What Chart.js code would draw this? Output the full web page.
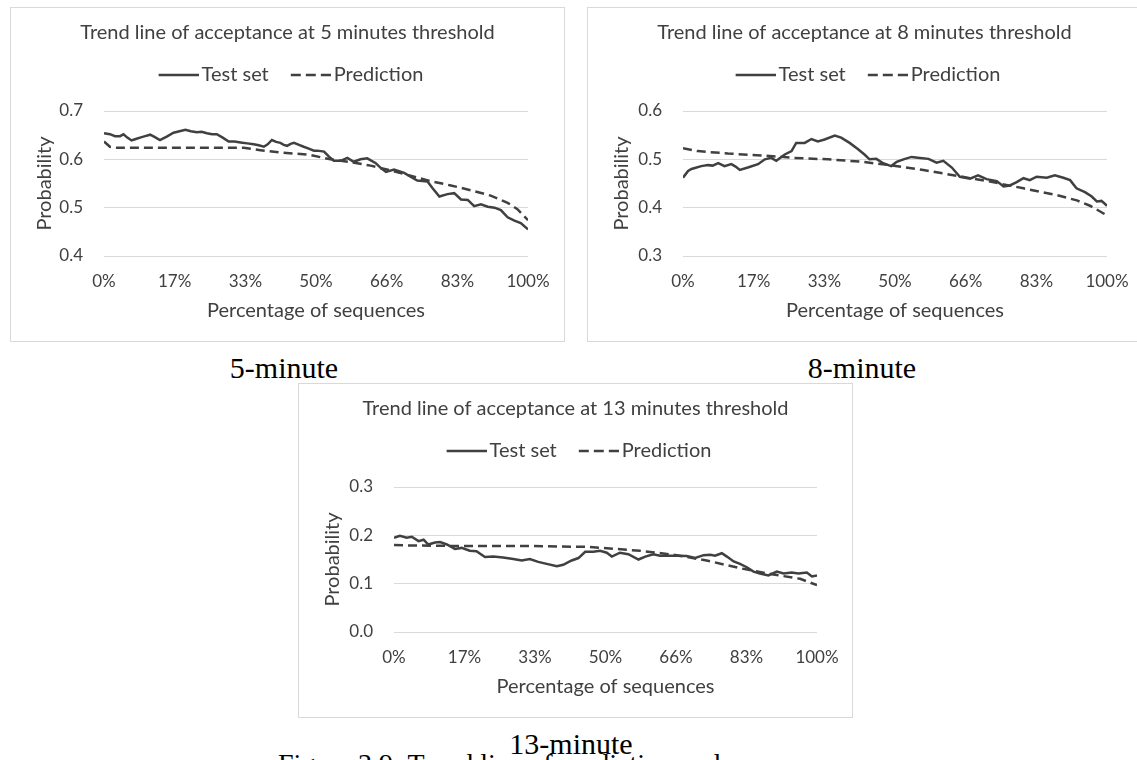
<!DOCTYPE html>
<html>
<head>
<meta charset="utf-8">
<script src="https://cdn.jsdelivr.net/npm/chart.js@4.4.1/dist/chart.umd.min.js"></script>
<style>
body { margin: 0; background: #fff; width: 1137px; height: 760px; overflow: hidden; position: relative; }
.box { position: absolute; border: 1px solid #d9d9d9; background: #fff; }
.box canvas { display: block; }
.cap { position: absolute; font-family: "Liberation Serif", "Times New Roman", serif; font-size: 30px; line-height: 1; color: #000; white-space: nowrap; }
.mid { transform: translateX(-50%); }
</style>
</head>
<body>
<div class="box" style="left:10px; top:7px;"><canvas id="chart5" width="553" height="333"></canvas></div>
<div class="box" style="left:587px; top:7px;"><canvas id="chart8" width="553" height="333"></canvas></div>
<div class="box" style="left:298px; top:383px;"><canvas id="chart13" width="553" height="333"></canvas></div>
<div class="cap mid" style="left:284px; top:353px;">5-minute</div>
<div class="cap mid" style="left:862px; top:353px;">8-minute</div>
<div class="cap mid" style="left:571px; top:729px;">13-minute</div>
<div class="cap" style="left:278px; top:750px; font-size:28px;">Figure 3.9: Trend line of prediction and</div>
<script>
var xTickLabels = ['0%', '17%', '33%', '50%', '66%', '83%', '100%'];
var legendLabels = ['Test set', 'Prediction'];
var FONT = 'Lato, "Open Sans", sans-serif';
var INK = '#404040';

// 5 minutes threshold
var test5X = [0, 1.4, 2.6, 3.8, 4.6, 5.5, 6.5, 7.5, 8.5, 9.7, 10.9, 12.0, 13.2, 14.8, 16.4, 17.8, 19.2, 20.5, 21.9, 23.0, 24.3, 25.5, 26.6, 28.0, 29.4, 30.8, 32.2, 33.8, 35.3, 36.5, 37.7, 38.6, 39.6, 40.6, 41.6, 42.4, 43.2, 44.0, 44.8, 46.0, 47.1, 48.3, 49.5, 50.3, 51.9, 53.0, 54.2, 55.8, 57.4, 58.9, 60.5, 62.1, 64.1, 65.3, 66.5, 68.4, 70.8, 72.3, 73.9, 76.3, 77.5, 79.1, 81.0, 82.6, 84.2, 85.8, 87.3, 88.9, 90.5, 92.1, 93.6, 95.2, 96.8, 98.3, 100];
var test5Y = [0.654, 0.652, 0.648, 0.648, 0.652, 0.645, 0.639, 0.642, 0.645, 0.648, 0.651, 0.646, 0.640, 0.647, 0.655, 0.658, 0.661, 0.658, 0.656, 0.657, 0.654, 0.652, 0.652, 0.645, 0.637, 0.637, 0.635, 0.633, 0.631, 0.629, 0.626, 0.631, 0.640, 0.636, 0.634, 0.630, 0.628, 0.632, 0.634, 0.630, 0.626, 0.622, 0.618, 0.618, 0.616, 0.606, 0.597, 0.597, 0.603, 0.595, 0.600, 0.602, 0.592, 0.582, 0.574, 0.579, 0.572, 0.564, 0.556, 0.554, 0.540, 0.523, 0.528, 0.530, 0.517, 0.516, 0.503, 0.507, 0.502, 0.500, 0.495, 0.480, 0.473, 0.468, 0.455];
var pred5X = [0, 1.4, 3, 20, 32.9, 36.9, 41.6, 46.3, 48.7, 53.4, 58.2, 62.9, 67.6, 72.3, 77.0, 81.8, 86.5, 91.2, 95.2, 97.5, 98.5, 100];
var pred5Y = [0.637, 0.626, 0.624, 0.624, 0.624, 0.619, 0.614, 0.611, 0.609, 0.600, 0.594, 0.587, 0.577, 0.566, 0.555, 0.546, 0.536, 0.525, 0.510, 0.497, 0.488, 0.474];
var yTicks5 = [0.4, 0.5, 0.6, 0.7];

// 8 minutes threshold
var test8X = [0, 1.2, 2.0, 2.8, 4.3, 5.9, 7.0, 8.3, 9.8, 11.4, 12.4, 13.4, 15.3, 17.7, 19.3, 20.8, 22.0, 24.0, 25.6, 26.7, 28.7, 30.3, 31.8, 33.4, 35.8, 37.3, 39.3, 41.3, 42.8, 44.0, 45.6, 47.2, 49.1, 50.4, 52.0, 53.9, 55.9, 57.9, 59.8, 61.4, 63.4, 65.3, 67.7, 69.6, 71.6, 74.0, 75.6, 77.1, 78.7, 80.3, 81.8, 83.4, 85.8, 87.7, 89.7, 91.3, 92.8, 94.8, 96.4, 97.6, 98.7, 100];
var test8Y = [0.462, 0.476, 0.480, 0.482, 0.486, 0.488, 0.487, 0.492, 0.486, 0.490, 0.485, 0.478, 0.483, 0.490, 0.500, 0.503, 0.497, 0.510, 0.517, 0.534, 0.534, 0.542, 0.537, 0.541, 0.549, 0.545, 0.534, 0.521, 0.510, 0.500, 0.501, 0.492, 0.486, 0.495, 0.500, 0.505, 0.503, 0.501, 0.493, 0.497, 0.483, 0.464, 0.460, 0.467, 0.459, 0.455, 0.444, 0.446, 0.453, 0.461, 0.457, 0.464, 0.462, 0.467, 0.462, 0.457, 0.440, 0.432, 0.423, 0.413, 0.414, 0.404];
var pred8X = [0, 3.5, 10.6, 18.5, 26.3, 34.2, 42.1, 48.8, 56.7, 64.5, 72.4, 80.3, 88.2, 92.9, 96.0, 99.2, 100];
var pred8Y = [0.523, 0.517, 0.512, 0.508, 0.503, 0.500, 0.495, 0.488, 0.478, 0.466, 0.454, 0.440, 0.426, 0.415, 0.404, 0.388, 0.384];
var yTicks8 = [0.3, 0.4, 0.5, 0.6];

// 13 minutes threshold
var test13X = [0, 1.4, 3.0, 4.2, 5.8, 7.0, 8.1, 9.7, 10.9, 12.5, 14.4, 16.0, 17.9, 19.5, 21.5, 23.5, 25.8, 28.2, 30.2, 32.1, 34.1, 36.1, 38.5, 40.0, 42.0, 43.6, 45.2, 47.1, 48.7, 50.3, 51.5, 53.4, 55.4, 57.8, 59.4, 61.3, 62.9, 64.9, 66.8, 69.2, 71.2, 73.2, 74.8, 75.9, 77.5, 78.7, 80.3, 81.8, 83.4, 85.0, 86.5, 88.5, 90.5, 92.1, 94.0, 95.6, 97.6, 98.8, 100];
var test13Y = [0.195, 0.199, 0.195, 0.197, 0.188, 0.191, 0.181, 0.185, 0.186, 0.181, 0.172, 0.174, 0.168, 0.167, 0.155, 0.156, 0.154, 0.151, 0.148, 0.151, 0.145, 0.141, 0.136, 0.139, 0.148, 0.153, 0.166, 0.166, 0.168, 0.164, 0.156, 0.164, 0.161, 0.150, 0.156, 0.161, 0.158, 0.158, 0.158, 0.157, 0.153, 0.159, 0.160, 0.158, 0.163, 0.156, 0.146, 0.141, 0.134, 0.125, 0.121, 0.117, 0.125, 0.121, 0.123, 0.121, 0.123, 0.115, 0.117];
var pred13X = [0, 3.8, 14.8, 30.6, 46.3, 58.2, 66.0, 73.9, 81.8, 89.7, 96.0, 100];
var pred13Y = [0.180, 0.179, 0.178, 0.178, 0.176, 0.168, 0.160, 0.148, 0.132, 0.119, 0.110, 0.097];
var yTicks13 = [0.0, 0.1, 0.2, 0.3];

function toPoints(xs, ys) {
    return xs.map(function(x, i) { return { x: x, y: ys[i] }; });
}

// Excel style legend sample: 40px line ending just before the text
function legendSample(dash) {
    var c = document.createElement('canvas');
    c.width = 54;
    c.height = 6;
    var g = c.getContext('2d');
    g.strokeStyle = INK;
    g.lineWidth = 2.5;
    g.setLineDash(dash);
    g.beginPath();
    g.moveTo(14, 3);
    g.lineTo(54, 3);
    g.stroke();
    return c;
}

// push the plot area down below the legend, like Excel does
var legendSpacer = {
    id: 'legendSpacer',
    beforeInit: function(chart) {
        var fit = chart.legend.fit;
        chart.legend.fit = function() {
            fit.bind(chart.legend)();
            this.height += 16;
        };
    }
};

function trendChart(id, title, testX, testY, predX, predY, yTicks, plotLeft, padRight) {
    var ctx = document.getElementById(id).getContext('2d');
    return new Chart(ctx, {
        type: 'line',
        data: {
            datasets: [{
                label: legendLabels[0],
                data: toPoints(testX, testY),
                borderColor: INK,
                borderWidth: 2.5,
                pointRadius: 0,
                pointStyle: legendSample([]),
                tension: 0,
                fill: false
            }, {
                label: legendLabels[1],
                data: toPoints(predX, predY),
                borderColor: INK,
                borderWidth: 2.5,
                borderDash: [9, 5],
                pointRadius: 0,
                pointStyle: legendSample([10, 5]),
                tension: 0,
                fill: false
            }]
        },
        options: {
            responsive: false,
            animation: false,
            layout: { padding: 0 },
            plugins: {
                title: {
                    display: true,
                    text: title,
                    color: INK,
                    font: { family: FONT, size: 20, weight: 'normal' },
                    padding: { top: 13, bottom: 5 }
                },
                legend: {
                    position: 'top',
                    labels: {
                        usePointStyle: true,
                        pointStyleWidth: 40,
                        color: INK,
                        font: { family: FONT, size: 20 },
                        padding: 15
                    }
                },
                tooltip: { enabled: false }
            },
            scales: {
                x: {
                    type: 'linear',
                    min: 0,
                    max: 100,
                    afterBuildTicks: function(s) {
                        s.ticks = xTickLabels.map(function(l, i) { return { value: i * 100 / 6 }; });
                    },
                    afterFit: function(s) { s.height = 85; },
                    grid: { display: false },
                    border: { display: false },
                    ticks: {
                        padding: 7,
                        color: INK,
                        maxRotation: 0,
                        autoSkip: false,
                        font: { family: FONT, size: 17 },
                        callback: function(v, i) { return xTickLabels[i]; }
                    },
                    title: {
                        display: true,
                        text: 'Percentage of sequences',
                        color: INK,
                        font: { family: FONT, size: 20 },
                        padding: { top: 0, bottom: 18 }
                    }
                },
                y: {
                    min: yTicks[0],
                    max: yTicks[yTicks.length - 1],
                    afterBuildTicks: function(s) {
                        s.ticks = yTicks.map(function(v) { return { value: v }; });
                    },
                    afterFit: function(s) { s.width = plotLeft; },
                    grid: { color: '#d9d9d9', lineWidth: 1, drawTicks: false },
                    border: { display: false },
                    ticks: {
                        padding: 21,
                        color: INK,
                        font: { family: FONT, size: 17 },
                        callback: function(v) { return v.toFixed(1); }
                    },
                    title: {
                        display: true,
                        text: 'Probability',
                        color: INK,
                        font: { family: FONT, size: 20 },
                        padding: { top: 22, bottom: 0 }
                    }
                },
                // empty right margin so title and legend stay centred on the whole box
                margin: {
                    position: 'right',
                    grid: { display: false },
                    border: { display: false },
                    ticks: { display: false },
                    afterFit: function(s) { s.width = padRight; }
                }
            }
        },
        plugins: [legendSpacer]
    });
}

trendChart('chart5', 'Trend line of acceptance at 5 minutes threshold', test5X, test5Y, pred5X, pred5Y, yTicks5, 93, 36);
trendChart('chart8', 'Trend line of acceptance at 8 minutes threshold', test8X, test8Y, pred8X, pred8Y, yTicks8, 95, 34);
trendChart('chart13', 'Trend line of acceptance at 13 minutes threshold', test13X, test13Y, pred13X, pred13Y, yTicks13, 95, 35);
</script>
</body>
</html>
